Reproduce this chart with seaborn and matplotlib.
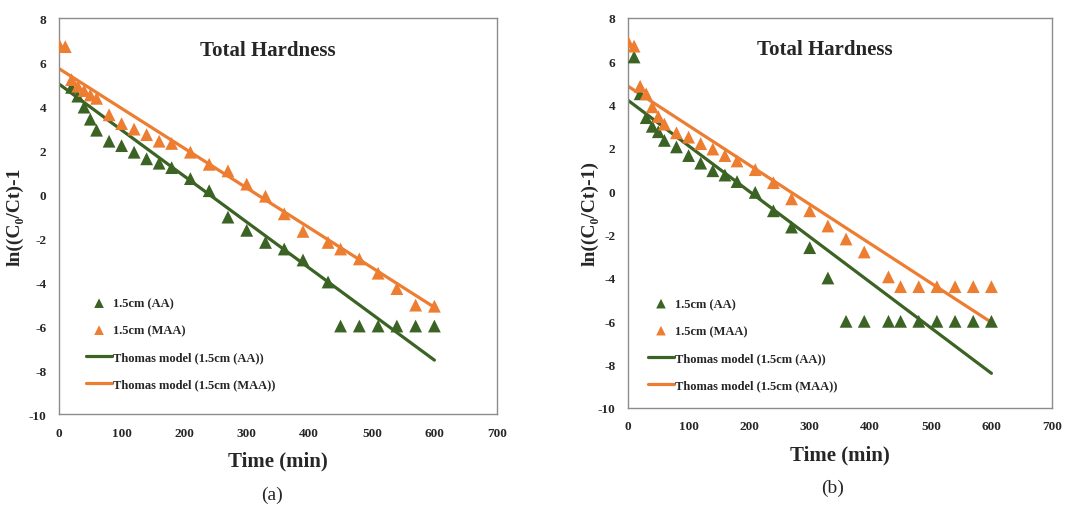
import matplotlib
matplotlib.use("Agg")
import matplotlib.pyplot as plt
import seaborn as sns

sns.set_style("white")
plt.rcParams['font.family'] = ['Liberation Serif', 'DejaVu Serif']
plt.rcParams['font.weight'] = 'bold'
plt.rcParams['axes.unicode_minus'] = False

# ---------------- data ----------------
time_full = [0, 10, 20, 30, 40, 50, 60, 80, 100, 120, 140, 160, 180, 210, 240,
             270, 300, 330, 360, 390, 430, 450, 480, 510, 540, 570, 600]

# Panel (a)
time_a_aa = [20, 30, 40, 50, 60, 80, 100, 120, 140, 160, 180, 210, 240,
             270, 300, 330, 360, 390, 430, 450, 480, 510, 540, 570, 600]
aa_a = [4.85, 4.45, 3.95, 3.4, 2.9, 2.4, 2.2, 1.9, 1.6, 1.4, 1.2, 0.7, 0.15,
        -1.05, -1.65, -2.2, -2.5, -3.0, -4.0, -6.0, -6.0, -6.0, -6.0, -6.0, -6.0]
time_a_maa = time_full
maa_a = [6.8, 6.7, 5.2, 4.9, 4.7, 4.5, 4.35, 3.6, 3.2, 2.95, 2.7, 2.4, 2.3, 1.9,
         1.35, 1.05, 0.45, -0.1, -0.9, -1.7, -2.2, -2.5, -2.95, -3.6, -4.3,
         -5.05, -5.1]

# Panel (b)
time_b_aa = time_full[1:]
aa_b = [6.2, 4.5, 3.4, 3.0, 2.75, 2.35, 2.05, 1.65, 1.3, 0.95, 0.75, 0.45,
        -0.05, -0.9, -1.65, -2.6, -4.0, -6.0, -6.0, -6.0, -6.0, -6.0, -6.0,
        -6.0, -6.0, -6.0]
time_b_maa = time_full
maa_b = [6.9, 6.7, 4.85, 4.5, 3.9, 3.45, 3.1, 2.7, 2.5, 2.2, 1.95, 1.65, 1.4,
         1.0, 0.4, -0.35, -0.9, -1.6, -2.2, -2.8, -3.95, -4.4, -4.4, -4.4,
         -4.4, -4.4, -4.4]

# Thomas model lines (end points)
model_t = [0, 600]
model_a_aa = [5.0, -7.55]
model_a_maa = [5.7, -5.15]
model_b_aa = [4.2, -8.4]
model_b_maa = [4.85, -6.05]

x_ticks = [0, 100, 200, 300, 400, 500, 600, 700]
y_ticks = [-10, -8, -6, -4, -2, 0, 2, 4, 6, 8]

GREEN = '#3B6324'
ORANGE = '#ED7D31'

fig = plt.figure(figsize=(10.75, 5.06), dpi=100)
ax_a = fig.add_axes([0.0549, 0.1798, 0.4074, 0.7826])
ax_b = fig.add_axes([0.5842, 0.1917, 0.3944, 0.7708])

panels = [
    (ax_a, time_a_aa, aa_a, time_a_maa, maa_a, model_a_aa, model_a_maa,
     'ln((C\u2080/Ct)-1', (-0.082, 0.5), (0.477, 0.92), (0.05, 0.307)),
    (ax_b, time_b_aa, aa_b, time_b_maa, maa_b, model_b_aa, model_b_maa,
     'ln((C\u2080/Ct)-1)', (-0.07, 0.5), (0.465, 0.92), (0.035, 0.295)),
]

for (ax, taa, yaa, tmaa, ymaa, line_aa, line_maa, ylab, ylc, tpos, lpos) in panels:
    sns.scatterplot(x=taa, y=yaa, marker='^', color=GREEN, s=85, edgecolor='none',
                    label='1.5cm (AA)', ax=ax, zorder=3)
    sns.scatterplot(x=tmaa, y=ymaa, marker='^', color=ORANGE, s=85, edgecolor='none',
                    label='1.5cm (MAA)', ax=ax, zorder=3)
    sns.lineplot(x=model_t, y=line_aa, color=GREEN, linewidth=2.3,
                 label='Thomas model (1.5cm (AA))', ax=ax, zorder=2)
    sns.lineplot(x=model_t, y=line_maa, color=ORANGE, linewidth=2.3,
                 label='Thomas model (1.5cm (MAA))', ax=ax, zorder=2)

    ax.set_xlim(0, 700)
    ax.set_ylim(-10, 8)
    ax.set_xticks(x_ticks)
    ax.set_yticks(y_ticks)
    ax.tick_params(axis='both', length=0, pad=9, labelsize=9.5)
    for lab in ax.get_xticklabels() + ax.get_yticklabels():
        lab.set_fontweight('bold')
    for sp in ax.spines.values():
        sp.set_color('#8c8c8c')
        sp.set_linewidth(1.0)
    ax.grid(False)

    ax.set_xlabel('Time (min)', fontsize=15, fontweight='bold')
    ax.xaxis.set_label_coords(0.5, -0.093)
    ax.set_ylabel(ylab, fontsize=14, fontweight='bold')
    ax.yaxis.set_label_coords(*ylc)
    ax.text(tpos[0], tpos[1], 'Total Hardness', transform=ax.transAxes,
            ha='center', va='center', fontsize=15, fontweight='bold')

    ax.legend(loc='upper left', bbox_to_anchor=lpos, frameon=False,
              prop={'size': 9, 'weight': 'bold'}, labelspacing=1.2,
              handlelength=2.1, handletextpad=0.1, markerscale=0.75,
              borderaxespad=0)

fig.text(272 / 1075, 1 - 495 / 506, '(a)', ha='center', va='center',
         fontsize=14, fontweight='normal')
fig.text(833 / 1075, 1 - 488 / 506, '(b)', ha='center', va='center',
         fontsize=14, fontweight='normal')

fig.savefig('out.png', dpi=100, facecolor='white')
